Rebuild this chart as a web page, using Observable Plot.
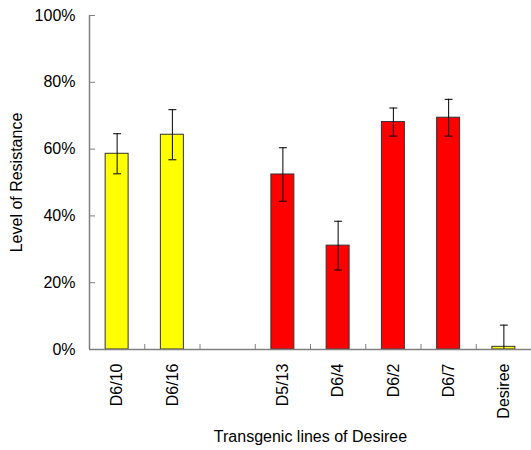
<!DOCTYPE html>
<html>
<head>
<meta charset="utf-8">
<script src="https://cdn.jsdelivr.net/npm/d3@7"></script>
<script src="https://cdn.jsdelivr.net/npm/@observablehq/plot@0.6"></script>
<style>
  html, body { margin: 0; padding: 0; background: #fff; }
  body { width: 531px; height: 450px; overflow: hidden; }
</style>
</head>
<body>
<div id="chart"></div>
<script>
const categories = ["D6/10", "D6/16", "", "D5/13", "D6/4", "D6/2", "D6/7", "Desiree"];
const values = [58.6, 64.3, null, 52.4, 31.1, 68.1, 69.4, 0.8];
const errors = [6.0, 7.5, null, 8.0, 7.3, 4.2, 5.5, 6.5];
const groups = ["yellow", "yellow", null, "red", "red", "red", "red", "yellow"];
const yTicks = [0, 20, 40, 60, 80, 100];

const rows = categories.map((c, i) => ({c, i, v: values[i], e: errors[i], g: groups[i]}))
  .filter(d => d.v != null);
const half = 0.208, cap = 0.072;

const chart = Plot.plot({
  width: 531,
  height: 450,
  marginLeft: 89,
  marginRight: 0,
  marginTop: 15,
  marginBottom: 101,
  style: {fontFamily: "Liberation Sans, Arial, sans-serif", fontSize: "16px", color: "#000", background: "#fff"},
  x: {type: "linear", domain: [0, categories.length]},
  y: {domain: [0, 100]},
  color: {domain: ["yellow", "red"], range: ["#ffff00", "#ff0000"]},
  marks: [
    Plot.rectY(rows, {x1: d => d.i + 0.5 - half, x2: d => d.i + 0.5 + half, y1: 0, y2: "v", fill: "g", stroke: "#333", strokeWidth: 1}),
    Plot.ruleX(rows, {x: d => d.i + 0.5, y1: d => Math.max(0, d.v - d.e), y2: d => d.v + d.e, stroke: "#000", strokeWidth: 1}),
    Plot.link(rows, {x1: d => d.i + 0.5 - cap, x2: d => d.i + 0.5 + cap, y1: d => d.v + d.e, y2: d => d.v + d.e, stroke: "#000", strokeWidth: 1}),
    Plot.link(rows.filter(d => d.v - d.e >= 0), {x1: d => d.i + 0.5 - cap, x2: d => d.i + 0.5 + cap, y1: d => d.v - d.e, y2: d => d.v - d.e, stroke: "#000", strokeWidth: 1}),
    Plot.ruleX([0], {y1: 0, y2: 100, stroke: "#808080", strokeWidth: 1.5}),
    Plot.ruleY([0], {stroke: "#808080", strokeWidth: 1.5}),
    Plot.axisY({ticks: yTicks, tickSize: -6, tickFormat: () => "", stroke: "#808080", label: null}),
    Plot.axisY({ticks: yTicks, tickSize: 0, tickPadding: 14, tickFormat: d => d + "%", fontSize: 16, fill: "#000",
      label: "Level of Resistance", labelAnchor: "center", labelArrow: "none", labelOffset: 79}),
    Plot.axisX({ticks: d3.range(categories.length + 1), tickSize: -5, tickFormat: () => "", stroke: "#808080", label: null}),
    Plot.axisX({ticks: categories.map((c, i) => i + 0.5).filter((t, i) => categories[i] !== ""), tickSize: 0, tickPadding: 14,
      tickFormat: t => categories[Math.floor(t)], tickRotate: -90, fontSize: 16, fill: "#000",
      label: "Transgenic lines of Desiree", labelAnchor: "center", labelArrow: "none", labelOffset: 92})
  ]
});
document.getElementById("chart").appendChild(chart);
</script>
</body>
</html>
